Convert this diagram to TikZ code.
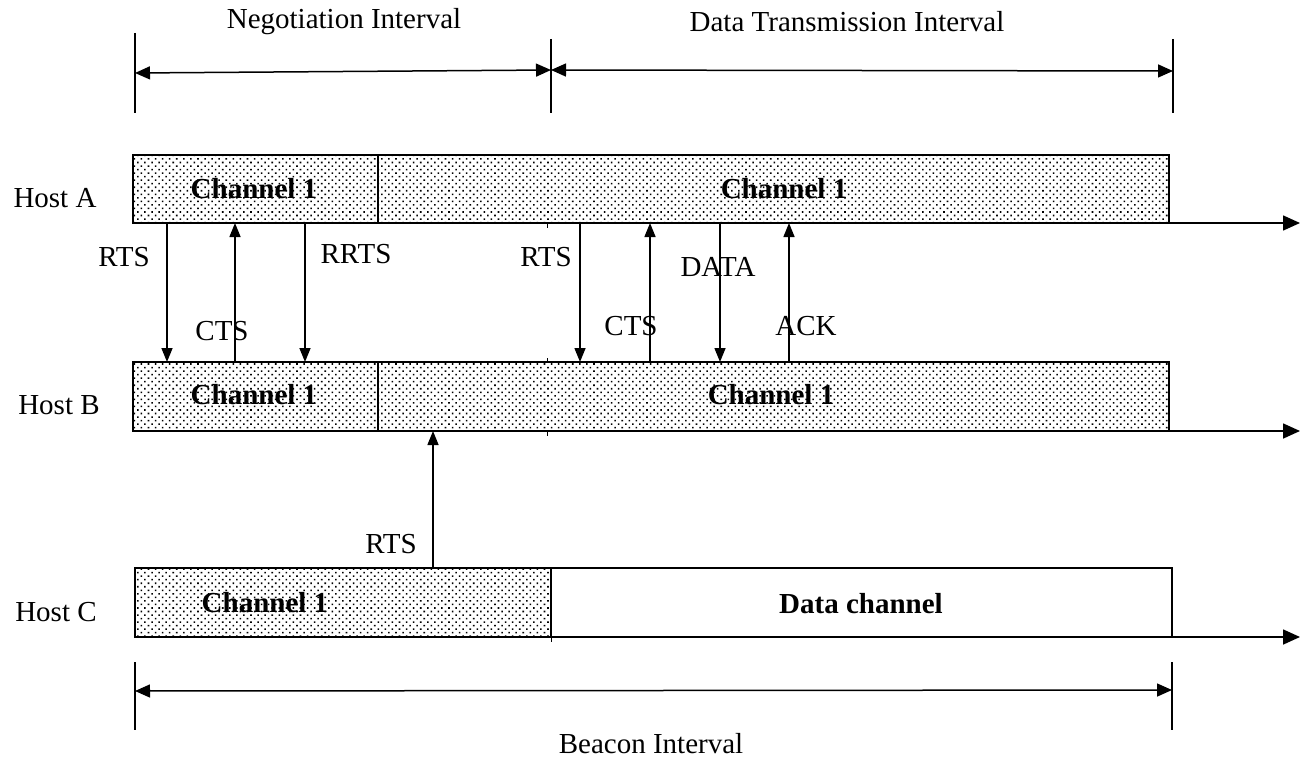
\documentclass[tikz,border=0pt]{standalone}
\usepackage{fontspec}
\setmainfont{Liberation Serif}
\usetikzlibrary{arrows.meta,patterns.meta,calc}

\begin{document}
\begin{tikzpicture}[x=1pt,y=-1pt,
  font=\fontsize{29}{32}\selectfont,
  seg/.style={draw, line width=1.8pt, rectangle, inner sep=0pt, outer sep=0pt, anchor=north west},
  dotseg/.style={seg, pattern={Dots[distance=5pt, angle=45, radius=1.1pt]}, pattern color=black},
  whiteseg/.style={seg, fill=white},
  chtext/.style={font=\fontsize{29}{32}\selectfont\bfseries},
  lbl/.style={inner sep=0pt},
  msg/.style={line width=1.5pt, -{Triangle[length=14pt,width=11pt]}},
  timeline/.style={line width=1.6pt, -{Triangle[length=17pt,width=15pt]}},
  span/.style={line width=1.5pt, {Triangle[length=15pt,width=13pt]}-{Triangle[length=15pt,width=13pt]}},
  tick/.style={line width=1.5pt},
  nub/.style={line width=1pt}]

\useasboundingbox (0,0) rectangle (1300,760);

% interval markers on top
\coordinate (t1top) at (135,33);  \coordinate (t1bot) at (135,113);
\coordinate (t2top) at (551,39);  \coordinate (t2bot) at (551,113);
\coordinate (t3top) at (1173,39); \coordinate (t3bot) at (1173,113);
\draw[tick] (t1top) -- (t1bot);
\draw[tick] (t2top) -- (t2bot);
\draw[tick] (t3top) -- (t3bot);
\coordinate (n1) at (135,73);  \coordinate (n2) at (551,70);
\coordinate (d1) at (551,70);  \coordinate (d2) at (1173,71);
\draw[span] (n1) -- (n2);
\draw[span] (d1) -- (d2);
\node[lbl] (negl) at (344,22) {Negotiation Interval};
\node[lbl] (datl) at (847,22) {Data Transmission Interval};

% host A
\node[dotseg, minimum width=245pt, minimum height=68pt] (A1) at (133,155) {};
\node[dotseg, minimum width=791pt, minimum height=68pt] (A2) at (378,155) {};
\node[lbl] (hA) at (55,198) {Host A};
\node[lbl, chtext] (cA1) at (254,189) {Channel 1};
\node[lbl, chtext] (cA2) at (784,189) {Channel 1};
\coordinate (endA) at (1300,223);
\draw[timeline] (A2.south east) -- (A2.south east -| endA);

% host B
\node[dotseg, minimum width=245pt, minimum height=69pt] (B1) at (133,362) {};
\node[dotseg, minimum width=791pt, minimum height=69pt] (B2) at (378,362) {};
\node[lbl] (hB) at (59,405) {Host B};
\node[lbl, chtext] (cB1) at (254,395) {Channel 1};
\node[lbl, chtext] (cB2) at (771,395) {Channel 1};
\coordinate (endB) at (1300,431);
\draw[timeline] (B2.south east) -- (B2.south east -| endB);

% host C
\node[dotseg, minimum width=416pt, minimum height=69pt] (C1) at (135,568) {};
\node[whiteseg, minimum width=621pt, minimum height=69pt] (C2) at (551,568) {};
\node[lbl] (hC) at (56,612) {Host C};
\node[lbl, chtext] (cC1) at (265,603) {Channel 1};
\node[lbl, chtext] (cC2) at (861,604) {Data channel};
\coordinate (endC) at (1300,637);
\draw[timeline] (C2.south east) -- (C2.south east -| endC);

% small marks at the interval boundary
\draw[nub] ([xshift=169pt]A2.south west) -- ++(0,5);
\draw[nub] ([xshift=169pt]B2.north west) -- ++(0,-4);
\draw[nub] ([xshift=169pt]B2.south west) -- ++(0,5);
\draw[nub] (C2.south west) -- ++(0,5);

% negotiation messages between A and B
\draw[msg] ([xshift=34pt]A1.south west) -- ([xshift=34pt]B1.north west);
\draw[msg] ([xshift=102pt]B1.north west) -- ([xshift=102pt]A1.south west);
\draw[msg] ([xshift=172pt]A1.south west) -- ([xshift=172pt]B1.north west);
\node[lbl] (mRTS1) at (124,257) {RTS};
\node[lbl] (mCTS1) at (222,331) {CTS};
\node[lbl] (mRRTS) at (356,254) {RRTS};

% data exchange messages between A and B
\draw[msg] ([xshift=202pt]A2.south west) -- ([xshift=202pt]B2.north west);
\draw[msg] ([xshift=272pt]B2.north west) -- ([xshift=272pt]A2.south west);
\draw[msg] ([xshift=342pt]A2.south west) -- ([xshift=342pt]B2.north west);
\draw[msg] ([xshift=411pt]B2.north west) -- ([xshift=411pt]A2.south west);
\node[lbl] (mRTS2) at (546,257) {RTS};
\node[lbl] (mCTS2) at (631,326) {CTS};
\node[lbl] (mDATA) at (718,267) {DATA};
\node[lbl] (mACK)  at (806,326) {ACK};

% C to B
\draw[msg] ([xshift=298pt]C1.north west) -- ([xshift=55pt]B2.south west);
\node[lbl] (mRTS3) at (391,544) {RTS};

% beacon interval
\coordinate (b1top) at (135,662); \coordinate (b1bot) at (135,730);
\coordinate (b2top) at (1172,662); \coordinate (b2bot) at (1172,730);
\draw[tick] (b1top) -- (b1bot);
\draw[tick] (b2top) -- (b2bot);
\coordinate (bl) at (135,691); \coordinate (br) at (1172,690);
\draw[span] (bl) -- (br);
\node[lbl] (beac) at (651,744) {Beacon Interval};
\end{tikzpicture}
\end{document}
